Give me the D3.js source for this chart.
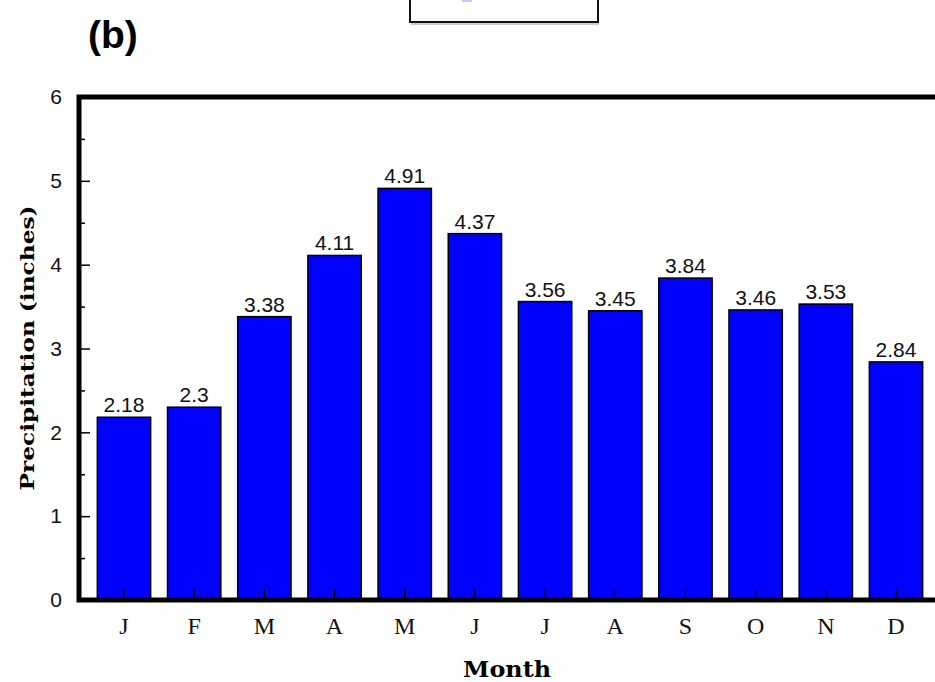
<!DOCTYPE html>
<html>
<head>
<meta charset="utf-8">
<script src="https://cdn.jsdelivr.net/npm/d3@7"></script>
<style>
  body { margin: 0; background: #fff; }
  svg { display: block; }
</style>
</head>
<body>
<svg width="935" height="682"></svg>
<script>
const months = ["J", "F", "M", "A", "M", "J", "J", "A", "S", "O", "N", "D"];
const precip = [2.18, 2.3, 3.38, 4.11, 4.91, 4.37, 3.56, 3.45, 3.84, 3.46, 3.53, 2.84];
const yTicks = [0, 1, 2, 3, 4, 5, 6];
const yMinor = [0.5, 1.5, 2.5, 3.5, 4.5, 5.5];

const svg = d3.select("svg");

const plotLeft = 79, plotTop = 97, plotBottom = 600;

const x = d3.scaleBand()
  .domain(d3.range(months.length))
  .range([88.9, 931.1])
  .paddingInner(0.24)
  .paddingOuter(0.12);

const y = d3.scaleLinear()
  .domain([0, 6])
  .range([plotBottom, plotTop]);

// header box cut by the top edge
svg.append("rect")
  .attr("x", 410).attr("y", -10)
  .attr("width", 188).attr("height", 32)
  .attr("fill", "#fff")
  .attr("stroke", "#111")
  .attr("stroke-width", 2);
svg.append("line")
  .attr("x1", 411).attr("x2", 599)
  .attr("y1", 24).attr("y2", 24)
  .attr("stroke", "#999").attr("stroke-width", 1);
svg.append("rect")
  .attr("x", 462).attr("y", 0)
  .attr("width", 10).attr("height", 2)
  .attr("fill", "#c8c8ff");

svg.append("text")
  .attr("x", 88).attr("y", 48)
  .attr("font-family", "Liberation Sans, Arial, sans-serif")
  .attr("font-weight", "bold")
  .attr("font-size", 39)
  .text("(b)");

// bars
svg.append("g")
  .selectAll("rect")
  .data(precip)
  .join("rect")
  .attr("x", (d, i) => x(i))
  .attr("y", d => y(d))
  .attr("width", x.bandwidth())
  .attr("height", d => y(0) - y(d))
  .attr("fill", "#0000ff")
  .attr("stroke", "#000")
  .attr("stroke-width", 1.5);

// value labels
svg.append("g")
  .selectAll("text")
  .data(precip)
  .join("text")
  .attr("x", (d, i) => x(i) + x.bandwidth() / 2)
  .attr("y", d => y(d) - 5)
  .attr("text-anchor", "middle")
  .attr("font-family", "Liberation Sans, Arial, sans-serif")
  .attr("font-size", 21)
  .attr("fill", "#111")
  .text(d => String(d));

// y axis
const yAxis = svg.append("g")
  .attr("transform", `translate(${plotLeft},0)`)
  .call(d3.axisLeft(y).tickValues(yTicks).tickSize(-11).tickPadding(17).tickFormat(d3.format("d")));
yAxis.select(".domain").remove();
yAxis.selectAll("line").attr("stroke", "#000").attr("stroke-width", 1.5);
yAxis.selectAll("text")
  .attr("font-family", "Liberation Sans, Arial, sans-serif")
  .attr("font-size", 21)
  .attr("fill", "#111");

const yMinorAxis = svg.append("g")
  .attr("transform", `translate(${plotLeft},0)`)
  .call(d3.axisLeft(y).tickValues(yMinor).tickSize(-6).tickFormat(""));
yMinorAxis.select(".domain").remove();
yMinorAxis.selectAll("line").attr("stroke", "#000").attr("stroke-width", 1.5);

// x axis
const xAxis = svg.append("g")
  .attr("transform", `translate(0,${plotBottom})`)
  .call(d3.axisBottom(x).tickSize(-11).tickFormat(i => months[i]));
xAxis.select(".domain").remove();
xAxis.selectAll("line").attr("stroke", "#000").attr("stroke-width", 1.5);
xAxis.selectAll("text")
  .attr("y", 34)
  .attr("dy", null)
  .attr("font-family", "Liberation Serif, Times New Roman, serif")
  .attr("font-size", 24)
  .attr("fill", "#111");

// frame
svg.append("path")
  .attr("d", `M945,${plotTop}H${plotLeft}V${plotBottom}H945`)
  .attr("fill", "none")
  .attr("stroke", "#000")
  .attr("stroke-width", 5)
  .attr("stroke-linejoin", "miter")
  .attr("stroke-linecap", "square");

// axis titles
svg.append("text")
  .attr("transform", "translate(34,348) rotate(-90)")
  .attr("text-anchor", "middle")
  .attr("font-family", "DejaVu Serif, serif")
  .attr("font-weight", "bold")
  .attr("font-size", 19)
  .attr("textLength", 285)
  .attr("lengthAdjust", "spacingAndGlyphs")
  .text("Precipitation (inches)");

svg.append("text")
  .attr("x", 507).attr("y", 677)
  .attr("text-anchor", "middle")
  .attr("font-family", "DejaVu Serif, serif")
  .attr("font-weight", "bold")
  .attr("font-size", 23)
  .attr("textLength", 88)
  .attr("lengthAdjust", "spacingAndGlyphs")
  .text("Month");
</script>
</body>
</html>
